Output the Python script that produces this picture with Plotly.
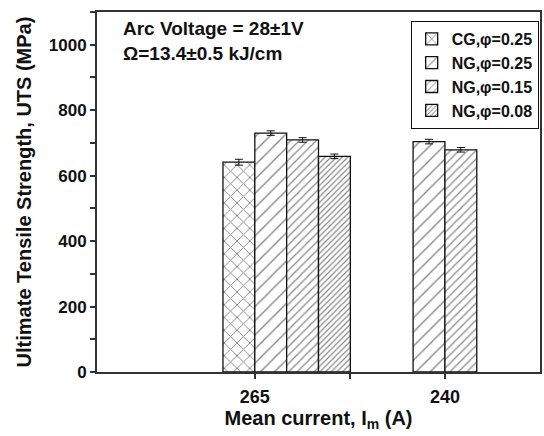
import plotly.graph_objects as go

# ---- data ----
categories = ["265", "240"]
cat_pos = [1, 2]
series_names = ["CG,φ=0.25", "NG,φ=0.25", "NG,φ=0.15", "NG,φ=0.08"]
uts_cg025 = [641]           # only at 265 A
uts_ng025 = [730, 704]      # 265 A, 240 A
uts_ng015 = [709, 679]      # 265 A, 240 A
uts_ng008 = [659]           # only at 265 A
err_cg025 = [9]
err_ng025 = [7, 7]
err_ng015 = [7, 7]
err_ng008 = [7]
y_ticks = [0, 200, 400, 600, 800, 1000]

W = 0.1675  # bar width in axis units

FONT = "Liberation Sans, Arial, sans-serif"
INK = "#111111"

def bar(name, xs, ys, errs, offsets, shape, size, solidity):
    return go.Bar(
        name=name, x=xs, y=ys, width=W, offset=offsets,
        marker=dict(color="white",
                    line=dict(color=INK, width=1.3),
                    pattern=dict(shape=shape, size=size, solidity=solidity,
                                 fgcolor=INK, bgcolor="white", fillmode="overlay")),
        error_y=dict(type="data", array=errs, visible=True, color=INK,
                     thickness=1, width=4),
    )

fig = go.Figure()
fig.add_trace(bar(series_names[0], [cat_pos[0]], uts_cg025, err_cg025, [-W], "x", 9, 0.2))
fig.add_trace(bar(series_names[1], cat_pos, uts_ng025, err_ng025, [0, -W], "/", 10, 0.14))
fig.add_trace(bar(series_names[2], cat_pos, uts_ng015, err_ng015, [W, 0], "/", 6, 0.2))
fig.add_trace(bar(series_names[3], [cat_pos[0]], uts_ng008, err_ng008, [2 * W], "/", 4, 0.3))

axis_common = dict(showline=True, linecolor="#333333", linewidth=2, mirror=True,
                   ticks="outside", ticklen=5, tickwidth=1.5, tickcolor="#333333",
                   showgrid=False, zeroline=False)

fig.update_layout(
    width=544, height=436,
    margin=dict(l=97, r=2, t=12, b=64),
    plot_bgcolor="white", paper_bgcolor="white",
    barmode="overlay",
    font=dict(family=FONT, color=INK),
    xaxis=dict(range=[0.17, 2.5], tickvals=cat_pos, ticktext=categories,
               ticklabelstandoff=2,
               tickfont=dict(family=FONT, size=18, color=INK, weight="bold"),
               minor=dict(tickvals=[1.5], ticks="outside", ticklen=5, tickcolor="#333333"),
               title=dict(text="Mean current, I<sub>m</sub> (A)", standoff=1,
                          font=dict(family=FONT, size=20, color=INK, weight="bold")),
               **axis_common),
    yaxis=dict(range=[0, 1100], tickvals=y_ticks,
               tickfont=dict(family=FONT, size=17, color=INK, weight="bold"),
               minor=dict(dtick=100, ticks="outside", ticklen=5, tickcolor="#333333"),
               title=dict(text="Ultimate Tensile Strength, UTS (MPa)", standoff=12,
                          font=dict(family=FONT, size=20, color=INK, weight="bold")),
               **axis_common),
    legend=dict(x=0.997, y=0.975, xanchor="right", yanchor="top",
                bordercolor=INK, borderwidth=1, bgcolor="white",
                font=dict(family=FONT, size=16, color=INK, weight="bold"),
                tracegroupgap=0, itemwidth=30),
    showlegend=True,
    annotations=[dict(text="Arc Voltage = 28±1V<br>Ω=13.4±0.5 kJ/cm",
                      xref="paper", yref="paper", x=0.055, y=0.99,
                      xanchor="left", yanchor="top", showarrow=False, align="left",
                      font=dict(family=FONT, size=19, color=INK, weight="bold"))],
)

fig.write_html("out.html")
